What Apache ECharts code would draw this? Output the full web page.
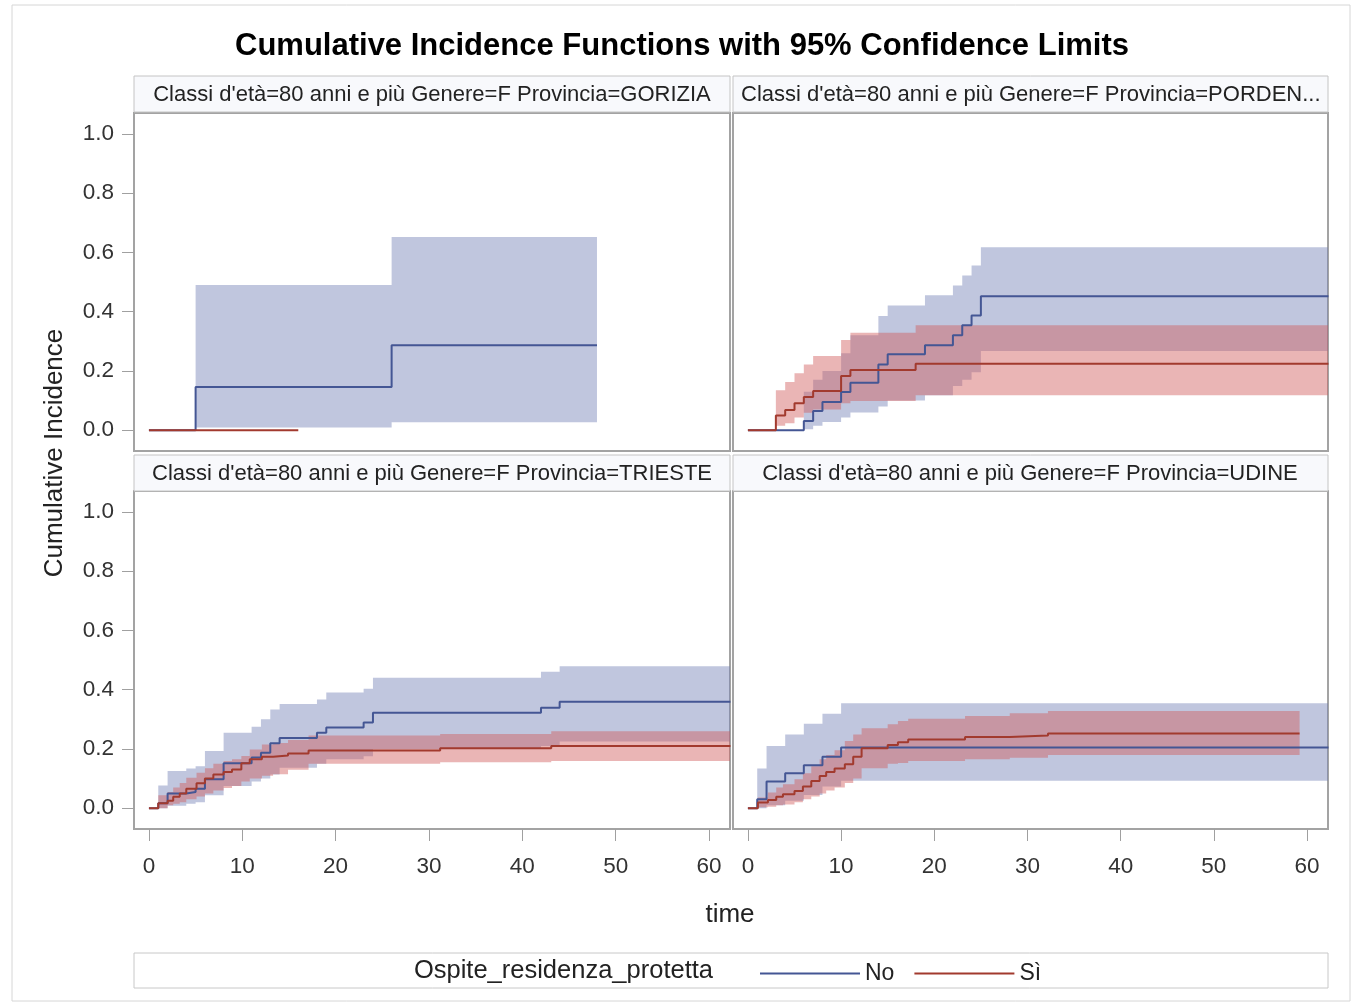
<!DOCTYPE html>
<html>
<head>
<meta charset="utf-8">
<script src="https://cdn.jsdelivr.net/npm/echarts@6/dist/echarts.min.js"></script>
<style>
html, body { margin: 0; padding: 0; background: #fff; }
#chart { width: 1353px; height: 1004px; }
</style>
</head>
<body>
<div id="chart"></div>
<script>
// tick values
var timeTicks = [0, 10, 20, 30, 40, 50, 60];
var cifTicks = [0, 0.2, 0.4, 0.6, 0.8, 1.0];
var groupNames = ['No', 'Sì'];
var panelLabels = [
    "Classi d'età=80 anni e più Genere=F Provincia=GORIZIA",
    "Classi d'età=80 anni e più Genere=F Provincia=PORDEN...",
    "Classi d'età=80 anni e più Genere=F Provincia=TRIESTE",
    "Classi d'età=80 anni e più Genere=F Provincia=UDINE"
];

/* GORIZIA */
var gorNoTime = [0, 5, 26, 48];
var gorNoCif  = [0, 0.146, 0.287, 0.287];
var gorNoLow  = [0, 0.009, 0.027, 0.027];
var gorNoUpp  = [0, 0.49, 0.652, 0.652];
var gorSiTime = [0, 16];
var gorSiCif  = [0, 0];
var gorSiLow  = [0, 0];
var gorSiUpp  = [0, 0];

/* PORDENONE */
var porNoTime = [0, 6, 7, 8, 10, 11, 14, 15, 19, 22, 23, 24, 25, 62.3];
var porNoCif  = [0, 0.031, 0.065, 0.095, 0.129, 0.16, 0.222, 0.256, 0.287, 0.32, 0.354, 0.387, 0.452, 0.452];
var porNoLow  = [0, 0.003, 0.015, 0.028, 0.043, 0.06, 0.08, 0.1, 0.118, 0.149, 0.17, 0.196, 0.267, 0.267];
var porNoUpp  = [0, 0.13, 0.17, 0.2, 0.26, 0.32, 0.385, 0.421, 0.455, 0.488, 0.522, 0.556, 0.617, 0.617];
var porSiTime = [0, 3, 4, 5, 6, 7, 10, 11, 18, 62.3];
var porSiCif  = [0, 0.05, 0.068, 0.091, 0.112, 0.132, 0.183, 0.203, 0.224, 0.224];
var porSiLow  = [0, 0.015, 0.024, 0.043, 0.059, 0.07, 0.091, 0.099, 0.118, 0.118];
var porSiUpp  = [0, 0.135, 0.163, 0.192, 0.222, 0.25, 0.304, 0.329, 0.354, 0.354];

/* TRIESTE */
var triNoTime = [0, 1, 2, 4, 5, 6, 8, 11, 12, 13, 14, 18, 19, 23, 24, 42, 44, 62.3];
var triNoCif  = [0, 0.017, 0.05, 0.055, 0.066, 0.098, 0.152, 0.171, 0.187, 0.219, 0.237, 0.255, 0.272, 0.289, 0.322, 0.339, 0.359, 0.359];
var triNoLow  = [0, 0, 0.008, 0.015, 0.02, 0.044, 0.075, 0.09, 0.1, 0.114, 0.137, 0.15, 0.165, 0.175, 0.2, 0.21, 0.225, 0.225];
var triNoUpp  = [0, 0.077, 0.126, 0.134, 0.142, 0.193, 0.255, 0.275, 0.3, 0.333, 0.352, 0.367, 0.39, 0.403, 0.44, 0.46, 0.479, 0.479];
var triSiTime = [0, 1, 2, 2.6, 3.3, 4, 5.1, 6, 6.9, 8, 8.9, 9.9, 10.8, 12.1, 13.3, 14.9, 17.1, 31.2, 43.1, 62.3];
var triSiCif  = [0, 0.017, 0.025, 0.039, 0.05, 0.066, 0.084, 0.1, 0.114, 0.122, 0.131, 0.152, 0.165, 0.174, 0.178, 0.185, 0.195, 0.202, 0.21, 0.21];
var triSiLow  = [0, 0, 0.01, 0.015, 0.02, 0.03, 0.04, 0.05, 0.06, 0.068, 0.075, 0.09, 0.1, 0.11, 0.115, 0.13, 0.15, 0.155, 0.159, 0.159];
var triSiUpp  = [0, 0.044, 0.055, 0.07, 0.085, 0.103, 0.12, 0.135, 0.15, 0.159, 0.165, 0.176, 0.198, 0.215, 0.22, 0.23, 0.245, 0.25, 0.26, 0.26];

/* UDINE */
var udiNoTime = [0, 1, 2, 4, 6, 8, 10, 62.3];
var udiNoCif  = [0, 0.03, 0.09, 0.118, 0.145, 0.174, 0.205, 0.205];
var udiNoLow  = [0, 0, 0.01, 0.025, 0.045, 0.073, 0.093, 0.093];
var udiNoUpp  = [0, 0.134, 0.21, 0.249, 0.285, 0.319, 0.354, 0.354];
var udiSiTime = [0, 1.07, 2.15, 3.04, 3.76, 5, 5.9, 6.8, 7.7, 8.4, 9.3, 10.4, 11.3, 12.2, 15, 16.1, 17.2, 23.3, 28.1, 32.2, 59.2];
var udiSiCif  = [0, 0.019, 0.028, 0.039, 0.047, 0.058, 0.073, 0.092, 0.109, 0.122, 0.134, 0.148, 0.174, 0.202, 0.213, 0.223, 0.232, 0.24, 0.245, 0.252, 0.252];
var udiSiLow  = [0, 0.003, 0.005, 0.01, 0.013, 0.02, 0.03, 0.04, 0.05, 0.06, 0.07, 0.085, 0.1, 0.135, 0.15, 0.153, 0.159, 0.165, 0.17, 0.18, 0.18];
var udiSiUpp  = [0, 0.036, 0.053, 0.07, 0.081, 0.098, 0.118, 0.142, 0.165, 0.18, 0.196, 0.227, 0.249, 0.27, 0.283, 0.294, 0.302, 0.311, 0.32, 0.328, 0.328];

var panels = [
    [{time: gorNoTime, cif: gorNoCif, low: gorNoLow, upp: gorNoUpp}, {time: gorSiTime, cif: gorSiCif, low: gorSiLow, upp: gorSiUpp}],
    [{time: porNoTime, cif: porNoCif, low: porNoLow, upp: porNoUpp}, {time: porSiTime, cif: porSiCif, low: porSiLow, upp: porSiUpp}],
    [{time: triNoTime, cif: triNoCif, low: triNoLow, upp: triNoUpp}, {time: triSiTime, cif: triSiCif, low: triSiLow, upp: triSiUpp}],
    [{time: udiNoTime, cif: udiNoCif, low: udiNoLow, upp: udiNoUpp}, {time: udiSiTime, cif: udiSiCif, low: udiSiLow, upp: udiSiUpp}]
];

var lineColors = ['#445694', '#A23A2E'];
var bandColors = ['rgba(111,126,179,0.44)', 'rgba(208,91,91,0.45)'];
var FONT = '"Liberation Sans", Arial, sans-serif';

var chartDom = document.getElementById('chart');
var myChart = echarts.init(chartDom);

var gridBoxes = [
    {left: 134, top: 113, width: 596, height: 338},
    {left: 733, top: 113, width: 595, height: 338},
    {left: 134, top: 491, width: 596, height: 338},
    {left: 733, top: 491, width: 595, height: 338}
];

var grids = [], xAxes = [], yAxes = [], series = [];

gridBoxes.forEach(function (box, i) {
    var isBottom = i >= 2;
    var isLeft = i % 2 === 0;
    grids.push({
        left: box.left, top: box.top, width: box.width, height: box.height,
        show: true, borderColor: '#a3a3a3', borderWidth: 2, backgroundColor: '#fff'
    });
    xAxes.push({
        type: 'value', gridIndex: i, min: -1.6, max: 62.25, position: 'bottom',
        splitLine: {show: false},
        axisLine: {show: false, onZero: false},
        axisTick: {show: isBottom, inside: false, customValues: timeTicks, length: 12, lineStyle: {color: '#a0a0a0'}},
        axisLabel: {show: isBottom, customValues: timeTicks, fontSize: 22.5, color: '#333', margin: 26, fontFamily: FONT}
    });
    yAxes.push({
        type: 'value', gridIndex: i, min: -0.07, max: 1.07, position: 'left',
        splitLine: {show: false},
        axisLine: {show: false, onZero: false},
        axisTick: {show: isLeft, inside: false, customValues: cifTicks, length: 12, lineStyle: {color: '#a0a0a0'}},
        axisLabel: {
            show: isLeft, customValues: cifTicks, fontSize: 22.5, color: '#333', margin: 20, fontFamily: FONT,
            formatter: function (v) { return v.toFixed(1); }
        }
    });
});

// confidence bands first
panels.forEach(function (groups, i) {
    groups.forEach(function (g, k) {
        var rows = g.time.map(function (t, j) { return [t, g.low[j], g.upp[j]]; });
        series.push({
            type: 'custom',
            name: groupNames[k] + ' CL',
            xAxisIndex: i, yAxisIndex: i,
            silent: true, clip: true, z: 1,
            data: rows,
            encode: {x: 0, y: [1, 2]},
            renderItem: function (params, api) {
                if (params.dataIndex !== 0) return;
                var pts = [];
                for (var j = 0; j < rows.length - 1; j++) {
                    pts.push(api.coord([rows[j][0], rows[j][2]]));
                    pts.push(api.coord([rows[j + 1][0], rows[j][2]]));
                }
                for (var j = rows.length - 2; j >= 0; j--) {
                    pts.push(api.coord([rows[j + 1][0], rows[j][1]]));
                    pts.push(api.coord([rows[j][0], rows[j][1]]));
                }
                return {
                    type: 'polygon',
                    shape: {points: pts},
                    style: {fill: bandColors[k], stroke: null}
                };
            }
        });
    });
});

// step lines on top
panels.forEach(function (groups, i) {
    groups.forEach(function (g, k) {
        series.push({
            type: 'line',
            name: groupNames[k],
            xAxisIndex: i, yAxisIndex: i,
            step: 'end', symbol: 'none', silent: true, z: 3,
            color: lineColors[k],
            lineStyle: {color: lineColors[k], width: 2},
            data: g.time.map(function (t, j) { return [t, g.cif[j]]; })
        });
    });
});

var graphics = [
    {type: 'rect', shape: {x: 12, y: 5, width: 1338, height: 996}, style: {fill: 'none', stroke: '#d6d6d6', lineWidth: 1}, z: 0},
    {type: 'text', x: 682, y: 46, style: {text: 'Cumulative Incidence Functions with 95% Confidence Limits', font: 'bold 31px ' + FONT, fill: '#000', align: 'center', verticalAlign: 'middle', textAlign: 'center', textVerticalAlign: 'middle'}},
    {type: 'text', x: 55, y: 453, rotation: Math.PI / 2, style: {text: 'Cumulative Incidence', font: '26px ' + FONT, fill: '#222', align: 'center', verticalAlign: 'middle', textAlign: 'center', textVerticalAlign: 'middle'}},
    {type: 'text', x: 730, y: 915, style: {text: 'time', font: '26px ' + FONT, fill: '#222', align: 'center', verticalAlign: 'middle', textAlign: 'center', textVerticalAlign: 'middle'}},
    {type: 'rect', shape: {x: 134, y: 953, width: 1194, height: 35}, style: {fill: '#fff', stroke: '#c8c8c8', lineWidth: 1}},
    {type: 'text', x: 713, y: 971, style: {text: 'Ospite_residenza_protetta', font: '25.5px ' + FONT, fill: '#222', align: 'right', verticalAlign: 'middle', textAlign: 'right', textVerticalAlign: 'middle'}}
];

var headerBoxes = [
    {x: 134, y: 76, w: 596, h: 36, tx: 432, align: 'center'},
    {x: 733, y: 76, w: 595, h: 36, tx: 741, align: 'left'},
    {x: 134, y: 455, w: 596, h: 36, tx: 432, align: 'center'},
    {x: 733, y: 455, w: 595, h: 36, tx: 1030, align: 'center'}
];
headerBoxes.forEach(function (h, i) {
    graphics.push({type: 'rect', shape: {x: h.x, y: h.y, width: h.w, height: h.h}, style: {fill: '#f8f9fc', stroke: '#c4c4c4', lineWidth: 1}});
    graphics.push({type: 'text', x: h.tx, y: h.y + 19, style: {text: panelLabels[i], font: '22px ' + FONT, fill: '#222', align: h.align, verticalAlign: 'middle', textAlign: h.align, textVerticalAlign: 'middle'}});
});

option = {
    animation: false,
    backgroundColor: '#fff',
    grid: grids,
    xAxis: xAxes,
    yAxis: yAxes,
    legend: {
        data: groupNames,
        left: 755, top: 957,
        icon: 'rect', itemWidth: 100, itemHeight: 2, itemGap: 20,
        textStyle: {fontSize: 23, color: '#222', fontFamily: FONT},
        selectedMode: false
    },
    graphic: graphics,
    series: series
};

option && myChart.setOption(option);
</script>
</body>
</html>
